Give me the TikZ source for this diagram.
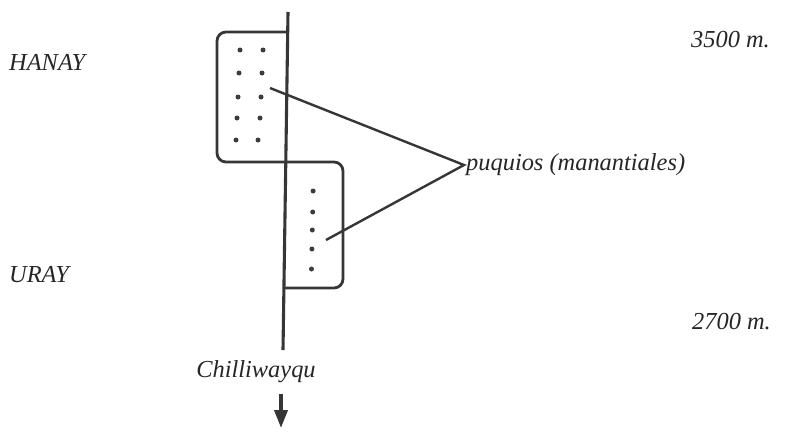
\documentclass[tikz,border=0pt]{standalone}
\usepackage{fontspec}
\setmainfont{Liberation Serif}
\usetikzlibrary{arrows.meta}
\definecolor{ink}{HTML}{363636}
\definecolor{dotink}{HTML}{3C3C3C}
\tikzset{
  label/.style={font=\fontsize{24.4}{28}\selectfont\itshape, text=black!85, inner sep=0pt},
  river/.style={draw=ink, line width=3.1pt},
  terrace/.style={draw=ink, line width=2.8pt, rounded corners=9pt},
  pointer/.style={draw=ink, line width=2.4pt},
  spring/.style={circle, fill=dotink, inner sep=0pt, minimum size=5pt},
}
\begin{document}
\begin{tikzpicture}[x=1pt,y=-1pt]
  \useasboundingbox (0,0) rectangle (799,431);
  \fill[white] (0,0) rectangle (799,431);

  % river axis
  \coordinate (rtop) at (288,12);
  \coordinate (rbot) at (283,350);
  \draw[river] (rtop) -- (rbot);

  % the two terraces joined in one outline
  \draw[terrace] (288,32) -- (217,32) -- (217,162) -- (343,162) -- (343,288) -- (285,288);

  % springs in the upper terrace
  \foreach \y/\a/\b [count=\i] in {50/240/263, 73/239/262, 97/238/261, 118/237/260, 140/236/258} {
    \node[spring] (u\i a) at (\a,\y) {};
    \node[spring] (u\i b) at (\b,\y) {};
  }
  % springs in the lower terrace
  \foreach \y [count=\i] in {191,212,230,249,269} {
    \node[spring] (l\i) at (313.5-\i*0.4,\y) {};
  }

  % labels
  \node[label, anchor=west] (hanay) at (9,62) {HANAY};
  \node[label, anchor=west] (uray) at (9,275) {URAY};
  \node[label, anchor=east] (alt1) at (770,40) {3500 m.};
  \node[label, anchor=east] (alt2) at (771,322) {2700 m.};
  \node[label, anchor=west] (puq) at (466,165) {puquios (manantiales)};
  \node[label] (chil) at (256,372) {Chilliwayqu};

  % pointers to the springs
  \coordinate (apex) at (464,165);
  \coordinate (pu) at (270,88);
  \coordinate (pl) at (326,240);
  \draw[pointer] (pu) -- (apex) -- (pl);

  % flow direction
  \coordinate (ftop) at (281,394);
  \coordinate (fend) at (281,428);
  \draw[draw=ink, line width=3.6pt, -{Triangle[width=13pt,length=18pt]}] (ftop) -- (fend);
\end{tikzpicture}
\end{document}
